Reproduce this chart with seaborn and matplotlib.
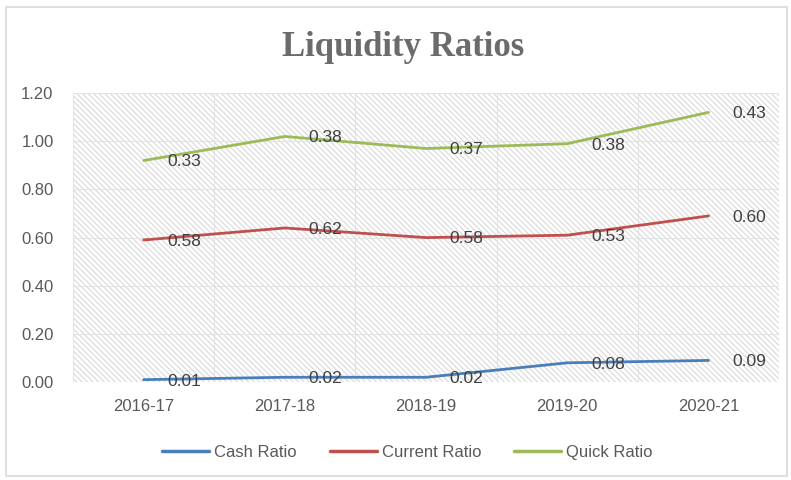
import matplotlib.pyplot as plt
import matplotlib.patches as mpatches
import seaborn as sns
import numpy as np
import pandas as pd

years = ['2016-17', '2017-18', '2018-19', '2019-20', '2020-21']
cash_ratio = [0.01, 0.02, 0.02, 0.08, 0.09]
current_ratio = [0.58, 0.62, 0.58, 0.53, 0.60]
quick_ratio = [0.33, 0.38, 0.37, 0.38, 0.43]

series_names = ['Cash Ratio', 'Current Ratio', 'Quick Ratio']
colors = ['#4a7ebb', '#c0504d', '#9bbb59']

sns.set_style('white')
plt.rcParams['hatch.linewidth'] = 0.7

# stacked line chart: each series sits on top of the previous one
vals = np.array([cash_ratio, current_ratio, quick_ratio])
stacked = np.cumsum(vals, axis=0)

rows = []
for name, ys in zip(series_names, stacked):
    for i, y in enumerate(ys):
        rows.append({'x': i, 'value': y, 'series': name})
df = pd.DataFrame(rows)

fig = plt.figure(figsize=(7.91, 4.8), dpi=100)
ax = fig.add_axes([0.0923, 0.204, 0.8927, 0.602])

ax.add_patch(mpatches.Rectangle((0, 0), 1, 1, transform=ax.transAxes,
                                facecolor='white', edgecolor='#d4d4d4', linewidth=0,
                                hatch='\\\\\\\\\\\\', zorder=0))

sns.lineplot(data=df, x='x', y='value', hue='series', palette=colors,
             linewidth=2.0, ax=ax, legend=False, zorder=3)

for i in range(3):
    for j in range(len(years)):
        ax.annotate(f'{vals[i, j]:.2f}', xy=(j, stacked[i, j]), xytext=(17, -1),
                    textcoords='offset points', ha='left', va='center',
                    fontsize=12.5, color='#404040', family='Liberation Sans', zorder=4)

ax.set_xlim(-0.5, 4.5)
ax.set_ylim(0, 1.2)
ax.set_yticks(np.arange(0, 1.21, 0.2))
ax.set_yticklabels([f'{t:.2f}' for t in np.arange(0, 1.21, 0.2)])
ax.set_xticks(range(len(years)))
ax.set_xticklabels(years)
ax.set_xticks(np.arange(-0.5, 4.6, 0.5), minor=True)
ax.grid(True, which='minor', axis='x', color='#e3e3e3', linewidth=0.8)
ax.grid(True, which='major', axis='y', color='#e3e3e3', linewidth=0.8)
ax.set_axisbelow(True)
ax.tick_params(axis='both', which='both', length=0, labelsize=12,
               labelcolor='#595959')
ax.tick_params(axis='x', pad=12)
ax.tick_params(axis='y', pad=14)
for lab in ax.get_xticklabels() + ax.get_yticklabels():
    lab.set_family('Liberation Sans')
for s in ax.spines.values():
    s.set_visible(False)
ax.set_xlabel('')
ax.set_ylabel('')

fig.text(0.51, 0.902, 'Liquidity Ratios', ha='center', va='center',
         fontsize=25, fontweight='bold', color='#6b6b6b', family='Liberation Serif')

handles = [plt.Line2D([], [], color=c, linewidth=2.5) for c in colors]
fig.legend(handles, series_names, loc='center', bbox_to_anchor=(0.515, 0.058),
           ncol=3, frameon=False, handlelength=2.8,
           columnspacing=2.0, handletextpad=0.3,
           prop={'family': 'Liberation Sans', 'size': 12},
           labelcolor='#595959')

fig.patches.append(mpatches.Rectangle((0.007, 0.008), 0.988, 0.978,
                                      transform=fig.transFigure, fill=False,
                                      edgecolor='#d9d9d9', linewidth=1.2))

fig.savefig('out.png', dpi=100)
